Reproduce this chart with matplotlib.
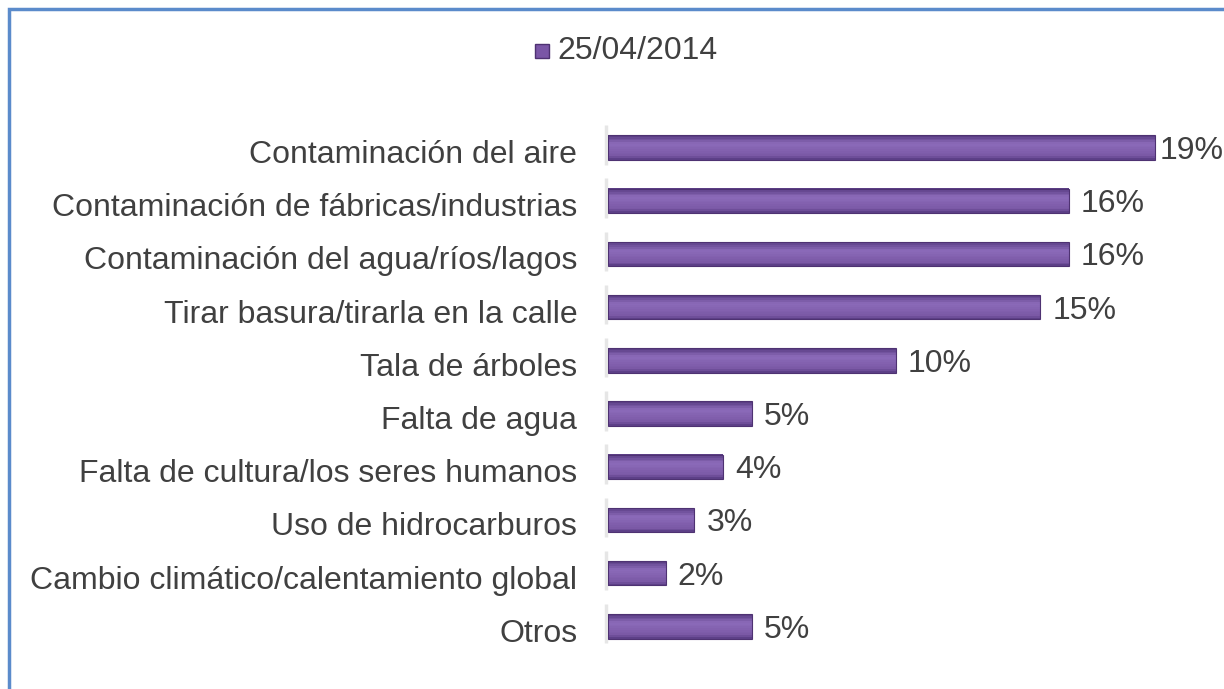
import numpy as np
import matplotlib.pyplot as plt
from matplotlib.patches import Rectangle
from matplotlib.lines import Line2D
from matplotlib.colors import to_rgb

categorias = [
    "Contaminación del aire",
    "Contaminación de fábricas/industrias",
    "Contaminación del agua/ríos/lagos",
    "Tirar basura/tirarla en la calle",
    "Tala de árboles",
    "Falta de agua",
    "Falta de cultura/los seres humanos",
    "Uso de hidrocarburos",
    "Cambio climático/calentamiento global",
    "Otros",
]
valores = [19, 16, 16, 15, 10, 5, 4, 3, 2, 5]
serie = "25/04/2014"

plt.rcParams["font.family"] = ["Liberation Sans", "DejaVu Sans"]
gris = "#404040"
morado = "#7A56A6"
fs = 23

fig = plt.figure(figsize=(12.24, 6.89), dpi=100)
W, H = 1224, 689
# ejes: x de 608 a 1213 px, y de 121 a 653 px
ax = fig.add_axes([608 / W, 1 - 653 / H, 605 / W, 532 / H])

pos = np.arange(len(categorias))
alto = 0.46

# sombra gris suave a la izquierda (efecto 3D)
for p in pos:
    ax.plot([-0.08, -0.08], [p - 0.42, p + 0.32], color="#e6e6e6", lw=2.5,
            solid_capstyle="butt", zorder=1, clip_on=False)

# barras con degradado vertical (tiras)
tono_borde = np.array(to_rgb("#563A80"))
tono_claro = np.array(to_rgb("#8C6BBA"))
tono_medio = np.array(to_rgb("#74529F"))
n = 14
for k in range(n):
    t = (k + 0.5) / n  # 0 = arriba, 1 = abajo
    if t < 0.35:
        c = tono_borde + (tono_claro - tono_borde) * (t / 0.35)
    else:
        c = tono_claro + (tono_medio - tono_claro) * ((t - 0.35) / 0.65)
        if t > 0.85:
            c = c + (tono_borde - c) * ((t - 0.85) / 0.15)
    ax.barh(pos - alto / 2 + alto * (k + 0.5) / n, valores, height=alto / n + 0.005,
            color=c, linewidth=0, zorder=2)
ax.barh(pos, valores, height=alto, fill=False, edgecolor="#4E3272", linewidth=0.8, zorder=3)

maximo = max(valores)
for p, v in zip(pos, valores):
    desp = 4 if v == maximo else 12
    ax.annotate(f"{v}%", (v, p), xytext=(desp * 0.72, -2.5), textcoords="offset points",
                va="center", ha="left", fontsize=fs, color=gris)
    ax.text(-1.07, p + 0.14, categorias[p], va="center", ha="right", fontsize=fs, color=gris)

ax.set_xlim(0, 21)
ax.set_ylim(len(categorias) - 0.5, -0.5)
ax.set_xticks([])
ax.set_yticks([])
for s in ax.spines.values():
    s.set_visible(False)

# leyenda
fig.lines.append(Line2D([542 / W], [1 - 51 / H], marker="s", markersize=10,
                        color=morado, markeredgecolor="#4E3272", transform=fig.transFigure))
fig.text(557 / W, 1 - 51 / H, serie, fontsize=fs, color=gris, va="center", ha="left")

# marco azul
fig.patches.append(Rectangle((9 / W, -0.1), 1.2, 1 - 9 / H + 0.1, transform=fig.transFigure,
                             fill=False, edgecolor="#5B8BCB", linewidth=2.5))

fig.savefig("out.png", dpi=100, facecolor="white")
